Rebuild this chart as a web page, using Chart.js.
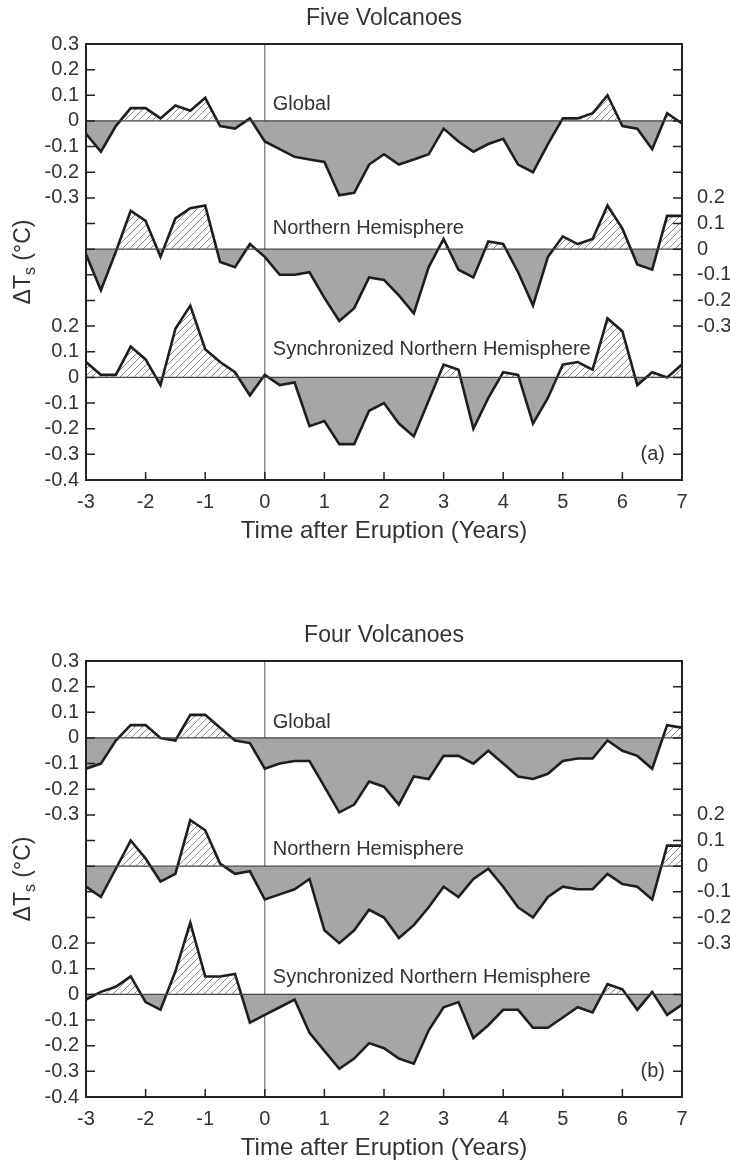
<!DOCTYPE html>
<html lang="en">
<head>
<meta charset="UTF-8">
<title>Surface temperature after volcanic eruptions</title>
<script src="https://cdn.jsdelivr.net/npm/chart.js"></script>
<style>
  html, body { margin: 0; padding: 0; background: #fff; }
  .panel { position: absolute; left: 0; width: 730px; height: 547px; }
  #panelA { top: 0; }
  #panelB { top: 617px; }
</style>
</head>
<body>
<div class="panel" id="panelA"><canvas id="chartA" width="730" height="547"></canvas></div>
<div class="panel" id="panelB"><canvas id="chartB" width="730" height="547"></canvas></div>
<script>
// time after eruption, one value per season (years)
const years = [-3, -2.75, -2.5, -2.25, -2, -1.75, -1.5, -1.25, -1, -0.75, -0.5, -0.25,
  0, 0.25, 0.5, 0.75, 1, 1.25, 1.5, 1.75, 2, 2.25, 2.5, 2.75, 3, 3.25, 3.5, 3.75,
  4, 4.25, 4.5, 4.75, 5, 5.25, 5.5, 5.75, 6, 6.25, 6.5, 6.75, 7];

// (a) Five volcanoes
const globalA = [-0.05, -0.12, -0.02, 0.05, 0.05, 0.01, 0.06, 0.04, 0.09, -0.02, -0.03, 0.01,
  -0.08, -0.11, -0.14, -0.15, -0.16, -0.29, -0.28, -0.17, -0.13, -0.17, -0.15, -0.13,
  -0.03, -0.08, -0.12, -0.09, -0.07, -0.17, -0.20, -0.09, 0.01, 0.01, 0.03, 0.10,
  -0.02, -0.03, -0.11, 0.03, -0.01];
const nhA = [-0.02, -0.16, -0.01, 0.15, 0.11, -0.03, 0.12, 0.16, 0.17, -0.05, -0.07, 0.02,
  -0.03, -0.10, -0.10, -0.09, -0.19, -0.28, -0.23, -0.11, -0.12, -0.18, -0.25, -0.07,
  0.04, -0.08, -0.11, 0.03, 0.02, -0.09, -0.22, -0.03, 0.05, 0.02, 0.04, 0.17,
  0.08, -0.06, -0.08, 0.13, 0.13];
const syncA = [0.06, 0.01, 0.01, 0.12, 0.07, -0.03, 0.19, 0.28, 0.11, 0.06, 0.02, -0.07,
  0.01, -0.03, -0.02, -0.19, -0.17, -0.26, -0.26, -0.13, -0.10, -0.18, -0.23, -0.09,
  0.05, 0.03, -0.20, -0.08, 0.02, 0.01, -0.18, -0.08, 0.05, 0.06, 0.03, 0.23,
  0.18, -0.03, 0.02, 0.00, 0.05];

// (b) Four volcanoes
const globalB = [-0.12, -0.10, -0.01, 0.05, 0.05, 0.00, -0.01, 0.09, 0.09, 0.04, -0.01, -0.02,
  -0.12, -0.10, -0.09, -0.09, -0.19, -0.29, -0.26, -0.17, -0.19, -0.26, -0.15, -0.16,
  -0.07, -0.07, -0.10, -0.05, -0.10, -0.15, -0.16, -0.14, -0.09, -0.08, -0.08, -0.01,
  -0.05, -0.07, -0.12, 0.05, 0.04];
const nhB = [-0.08, -0.12, -0.01, 0.10, 0.03, -0.06, -0.03, 0.18, 0.14, 0.01, -0.03, -0.02,
  -0.13, -0.11, -0.09, -0.05, -0.25, -0.30, -0.25, -0.17, -0.20, -0.28, -0.23, -0.16,
  -0.08, -0.12, -0.05, -0.01, -0.08, -0.16, -0.20, -0.12, -0.08, -0.09, -0.09, -0.03,
  -0.07, -0.08, -0.13, 0.08, 0.08];
const syncB = [-0.02, 0.01, 0.03, 0.07, -0.03, -0.06, 0.09, 0.28, 0.07, 0.07, 0.08, -0.11,
  -0.08, -0.05, -0.02, -0.15, -0.22, -0.29, -0.25, -0.19, -0.21, -0.25, -0.27, -0.14,
  -0.05, -0.03, -0.17, -0.12, -0.06, -0.06, -0.13, -0.13, -0.09, -0.05, -0.07, 0.04,
  0.02, -0.06, 0.01, -0.08, -0.04];

const seriesNames = ['Global', 'Northern Hemisphere', 'Synchronized Northern Hemisphere'];

// tick labels, top of the frame to the bottom (one every 0.1)
const leftTickLabels = ['0.3', '0.2', '0.1', '0', '-0.1', '-0.2', '-0.3', '', '', '', '',
  '0.2', '0.1', '0', '-0.1', '-0.2', '-0.3', '-0.4'];
const rightTickLabels = ['', '', '', '', '', '', '0.2', '0.1', '0', '-0.1', '-0.2', '-0.3',
  '', '', '', '', '', ''];
const xTicks = [-3, -2, -1, 0, 1, 2, 3, 4, 5, 6, 7];

// the three curves are stacked on one axis, each around its own zero
const offsets = [0, -0.5, -1.0];
const yTop = 0.3, yBottom = -1.4;
const yTicks = leftTickLabels.map((_, k) => Math.round((yTop - k * 0.1) * 10) / 10);

Chart.defaults.font.family = '"Liberation Sans", Arial, Helvetica, sans-serif';
Chart.defaults.color = '#333';

function hatch(ctx) {
  const c = document.createElement('canvas');
  c.width = c.height = 7;
  const g = c.getContext('2d');
  g.strokeStyle = '#8c8c8c';
  g.lineWidth = 1;
  g.beginPath();
  g.moveTo(0, 7); g.lineTo(7, 0);
  g.moveTo(-1, 1); g.lineTo(1, -1);
  g.moveTo(6, 8); g.lineTo(8, 6);
  g.stroke();
  return ctx.createPattern(c, 'repeat');
}

const frame = {
  id: 'frame',
  afterDatasetsDraw(chart) {
    const { ctx, chartArea: a, scales } = chart;
    const opts = chart.options.plugins.frame;
    ctx.save();
    // inward ticks
    ctx.strokeStyle = '#222';
    ctx.lineWidth = 1.5;
    ctx.beginPath();
    yTicks.slice(1, -1).forEach(v => {
      const y = scales.y.getPixelForValue(v);
      ctx.moveTo(a.left, y); ctx.lineTo(a.left + 9, y);
      ctx.moveTo(a.right, y); ctx.lineTo(a.right - 9, y);
    });
    xTicks.slice(1, -1).forEach(v => {
      const x = scales.x.getPixelForValue(v);
      ctx.moveTo(x, a.bottom); ctx.lineTo(x, a.bottom - 8);
    });
    ctx.stroke();
    ctx.lineWidth = 2;
    ctx.strokeRect(a.left, a.top, a.right - a.left, a.bottom - a.top);

    // series names
    ctx.fillStyle = '#333';
    ctx.font = '20px "Liberation Sans", Arial, sans-serif';
    ctx.textBaseline = 'middle';
    ctx.textAlign = 'left';
    const x0 = scales.x.getPixelForValue(0) + 8;
    seriesNames.forEach((name, k) => {
      ctx.fillText(name, x0, scales.y.getPixelForValue(offsets[k] + opts.lifts[k]));
    });
    ctx.textAlign = 'right';
    ctx.fillText(opts.letter, a.right - 17, scales.y.getPixelForValue(-1.3));

    // y axis title with subscript
    const cy = (a.top + a.bottom) / 2;
    ctx.translate(22, cy);
    ctx.rotate(-Math.PI / 2);
    const big = '23px "Liberation Sans", Arial, sans-serif';
    const small = '16px "Liberation Sans", Arial, sans-serif';
    ctx.textAlign = 'left';
    ctx.textBaseline = 'alphabetic';
    ctx.font = big;
    const w1 = ctx.measureText('\u0394T').width;
    const w3 = ctx.measureText(' (\u00B0C)').width;
    ctx.font = small;
    const w2 = ctx.measureText('s').width;
    let px = -(w1 + w2 + w3) / 2;
    const base = 8;
    ctx.font = big;
    ctx.fillText('\u0394T', px, base);
    px += w1;
    ctx.font = small;
    ctx.fillText('s', px, base + 5);
    px += w2;
    ctx.font = big;
    ctx.fillText(' (\u00B0C)', px, base);
    ctx.restore();
  }
};

function buildChart(id, title, letter, values, lifts) {
  const ctx = document.getElementById(id).getContext('2d');
  const hatched = hatch(ctx);
  const datasets = [];
  values.forEach((vals, k) => {
    datasets.push({
      data: years.map((t, i) => ({ x: t, y: vals[i] + offsets[k] })),
      borderColor: '#1e1e1e',
      borderWidth: 2.6,
      pointRadius: 0,
      tension: 0,
      order: 0,
      fill: { target: { value: offsets[k] }, above: hatched, below: '#a6a6a6' }
    });
    datasets.push({
      data: [{ x: xTicks[0], y: offsets[k] }, { x: xTicks[xTicks.length - 1], y: offsets[k] }],
      borderColor: '#444',
      borderWidth: 1.3,
      pointRadius: 0,
      fill: false,
      order: -1
    });
  });
  datasets.push({
    data: [{ x: 0, y: yBottom }, { x: 0, y: yTop }],
    borderColor: '#555',
    borderWidth: 1,
    pointRadius: 0,
    fill: false,
    order: 5
  });

  const setTicks = scale => { scale.ticks = yTicks.map(v => ({ value: v })); };
  const tickFont = { size: 20 };

  return new Chart(ctx, {
    type: 'line',
    data: { datasets },
    options: {
      responsive: false,
      animation: false,
      devicePixelRatio: 1,
      layout: { padding: 0 },
      plugins: {
        legend: { display: false },
        tooltip: { enabled: false },
        title: {
          display: true,
          text: title,
          fullSize: false,
          color: '#333',
          font: { size: 23, weight: 'normal' },
          padding: { top: 5, bottom: 11.4 }
        },
        frame: { letter, lifts }
      },
      scales: {
        x: {
          type: 'linear',
          min: xTicks[0],
          max: xTicks[xTicks.length - 1],
          grid: { display: false, drawTicks: false },
          border: { display: false },
          ticks: { stepSize: 1, padding: 10, font: tickFont, color: '#333', callback: v => String(v) },
          title: {
            display: true,
            text: 'Time after Eruption (Years)',
            color: '#333',
            font: { size: 24 },
            padding: { top: 0, bottom: 1 }
          },
          afterFit: s => { s.height = 67; }
        },
        y: {
          position: 'left',
          min: yBottom,
          max: yTop,
          grid: { display: false, drawTicks: false },
          border: { display: false },
          afterBuildTicks: setTicks,
          ticks: {
            autoSkip: false,
            padding: 7,
            font: tickFont,
            color: '#333',
            callback: v => leftTickLabels[Math.round((yTop - v) * 10)] || ''
          },
          afterFit: s => { s.width = 86; }
        },
        y2: {
          position: 'right',
          min: yBottom,
          max: yTop,
          grid: { display: false, drawTicks: false },
          border: { display: false },
          afterBuildTicks: setTicks,
          ticks: {
            autoSkip: false,
            padding: 15,
            font: tickFont,
            color: '#333',
            callback: v => rightTickLabels[Math.round((yTop - v) * 10)] || ''
          },
          afterFit: s => { s.width = 48; }
        }
      }
    },
    plugins: [frame]
  });
}

buildChart('chartA', 'Five Volcanoes', '(a)', [globalA, nhA, syncA], [0.065, 0.08, 0.11]);
buildChart('chartB', 'Four Volcanoes', '(b)', [globalB, nhB, syncB], [0.06, 0.066, 0.067]);
</script>
</body>
</html>
